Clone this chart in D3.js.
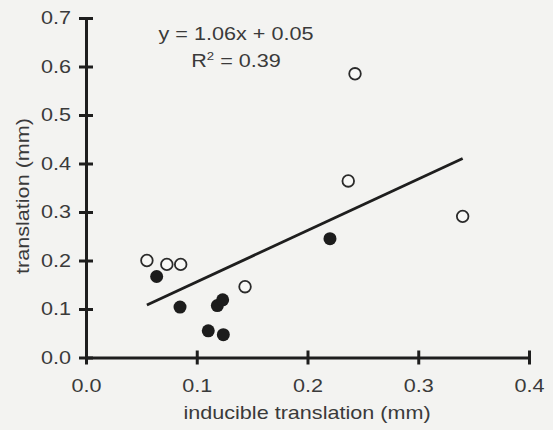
<!DOCTYPE html>
<html>
<head>
<meta charset="utf-8">
<script src="https://cdn.jsdelivr.net/npm/d3@7"></script>
<style>
  html, body { margin: 0; padding: 0; background: #f3f3f1; }
  svg { display: block; }
  text { font-family: "Liberation Sans", Arial, sans-serif; fill: #3a3a3a; }
</style>
</head>
<body>
<svg id="chart" width="553" height="430"></svg>
<script>
// Open circles: inducible vs. measured translation (mm)
const openX = [0.055, 0.073, 0.0855, 0.1436, 0.2368, 0.2429, 0.3401];
const openY = [0.200, 0.192, 0.192, 0.146, 0.364, 0.585, 0.291];
// Filled circles
const filledX = [0.0638, 0.0849, 0.1186, 0.1234, 0.1104, 0.124, 0.2203];
const filledY = [0.167, 0.104, 0.107, 0.119, 0.055, 0.047, 0.245];
// Linear fit shown on the plot
const fitSlope = 1.06;
const fitIntercept = 0.05;
const fitR2 = 0.39;
// Axis ticks
const xTicks = [0.0, 0.1, 0.2, 0.3, 0.4];
const yTicks = [0.0, 0.1, 0.2, 0.3, 0.4, 0.5, 0.6, 0.7];

const svg = d3.select("#chart");
const x = d3.scaleLinear().domain([0, 0.4]).range([86, 529]);
const y = d3.scaleLinear().domain([0, 0.7]).range([357.5, 18]);

const axisColor = "#1e1e1e";
const fontSize = 18;
const stretch = 1.2;   // wide lettering

// Y axis
const yAxis = d3.axisLeft(y).tickValues(yTicks).tickFormat(d3.format(".1f"))
  .tickSizeInner(7).tickSizeOuter(0).tickPadding(10);
const gy = svg.append("g").attr("transform", `translate(${x(0)},0)`).call(yAxis);
gy.select(".domain").attr("stroke", axisColor).attr("stroke-width", 3);
gy.selectAll(".tick line").attr("stroke", axisColor).attr("stroke-width", 3)
  .attr("x1", 7).attr("x2", -7);
gy.selectAll(".tick text").attr("font-size", fontSize)
  .attr("font-family", "Liberation Sans, Arial, sans-serif").attr("fill", "#3a3a3a")
  .attr("x", -15 / stretch).attr("transform", `scale(${stretch},1)`);

// X axis
const xAxis = d3.axisBottom(x).tickValues(xTicks).tickFormat(d3.format(".1f"))
  .tickSizeInner(7).tickSizeOuter(0).tickPadding(14);
const gx = svg.append("g").attr("transform", `translate(0,${y(0)})`).call(xAxis);
gx.select(".domain").attr("stroke", axisColor).attr("stroke-width", 3);
gx.selectAll(".tick line").attr("stroke", axisColor).attr("stroke-width", 3)
  .attr("y1", -7).attr("y2", 7);
gx.selectAll(".tick text").attr("font-size", fontSize)
  .attr("font-family", "Liberation Sans, Arial, sans-serif").attr("fill", "#3a3a3a")
  .attr("y", 22).attr("transform", `scale(${stretch},1)`);

// Axis titles
svg.append("text")
  .attr("transform", `translate(307,419) scale(${stretch},1)`)
  .attr("text-anchor", "middle").attr("font-size", fontSize)
  .text("inducible translation (mm)");
svg.append("text")
  .attr("transform", `translate(29,196) rotate(-90) scale(${stretch},1)`)
  .attr("text-anchor", "middle").attr("font-size", fontSize)
  .text("translation (mm)");

// Regression line across the range of the data
const allX = openX.concat(filledX);
const [x0, x1] = d3.extent(allX);
svg.append("line")
  .attr("x1", x(x0)).attr("y1", y(fitSlope * x0 + fitIntercept))
  .attr("x2", x(x1)).attr("y2", y(fitSlope * x1 + fitIntercept))
  .attr("stroke", axisColor).attr("stroke-width", 2.8);

// Points
const openPts = openX.map((v, i) => ({ x: v, y: openY[i] }));
const filledPts = filledX.map((v, i) => ({ x: v, y: filledY[i] }));

svg.append("g").selectAll("circle").data(filledPts).join("circle")
  .attr("cx", d => x(d.x)).attr("cy", d => y(d.y)).attr("r", 6.5)
  .attr("fill", "#1c1c1c");

svg.append("g").selectAll("circle").data(openPts).join("circle")
  .attr("cx", d => x(d.x)).attr("cy", d => y(d.y)).attr("r", 5.8)
  .attr("fill", "#f8f8f6").attr("stroke", "#2a2a2a").attr("stroke-width", 1.8);

// Fit equation
svg.append("text")
  .attr("transform", `translate(236,40) scale(${stretch},1)`)
  .attr("text-anchor", "middle").attr("font-size", fontSize)
  .text(`y = ${fitSlope.toFixed(2)}x + ${fitIntercept.toFixed(2)}`);
const r2 = svg.append("text")
  .attr("transform", `translate(236,67) scale(${stretch},1)`)
  .attr("text-anchor", "middle").attr("font-size", fontSize);
r2.append("tspan").text("R");
r2.append("tspan").attr("dy", -7).attr("font-size", 11).text("2");
r2.append("tspan").attr("dy", 7).text(` = ${fitR2.toFixed(2)}`);
</script>
</body>
</html>
